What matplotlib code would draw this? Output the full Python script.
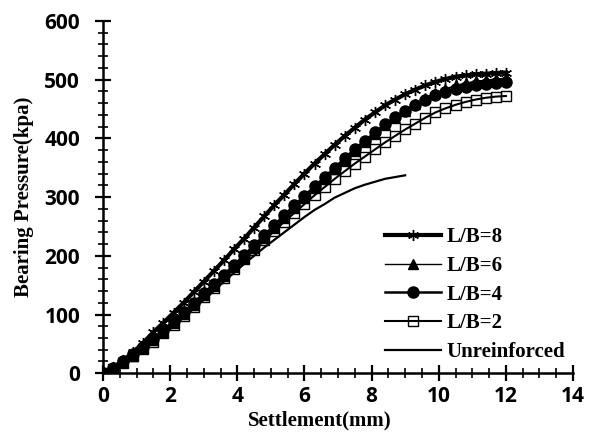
import matplotlib
matplotlib.use("Agg")
import matplotlib.pyplot as plt
from matplotlib.ticker import MultipleLocator

# settlement (mm) for the reinforced tests
settle = [0, 0.3, 0.6, 0.9, 1.2, 1.5, 1.8, 2.1, 2.4, 2.7, 3.0, 3.3, 3.6, 3.9,
          4.2, 4.5, 4.8, 5.1, 5.4, 5.7, 6.0, 6.3, 6.6, 6.9, 7.2, 7.5, 7.8,
          8.1, 8.4, 8.7, 9.0, 9.3, 9.6, 9.9, 10.2, 10.5, 10.8, 11.1, 11.4,
          11.7, 12.0]

lb8 = [0, 10, 22, 36, 52, 70, 86, 103, 120, 138, 156, 174, 192, 211, 229,
       248, 267, 286, 304, 322, 340, 357, 373, 389, 404, 418, 432, 444, 456,
       466, 475, 483, 490, 496, 501, 505, 507, 509, 510, 511, 512]
lb6 = [0, 8, 19, 30, 43, 57, 71, 86, 101, 117, 133, 149, 165, 181, 197,
       214, 231, 248, 265, 282, 298, 315, 331, 347, 363, 379, 394, 408, 422,
       435, 447, 458, 468, 477, 484, 490, 494, 497, 499, 501, 502]
lb4 = [0, 9, 20, 32, 45, 59, 74, 89, 104, 120, 136, 152, 168, 184, 201,
       218, 235, 252, 269, 286, 302, 318, 334, 350, 366, 382, 396, 410, 424,
       436, 447, 457, 465, 473, 479, 484, 488, 491, 493, 495, 496]
lb2 = [0, 8, 18, 29, 41, 54, 68, 82, 97, 113, 129, 145, 162, 178, 194,
       210, 226, 242, 258, 273, 288, 303, 317, 331, 344, 357, 369, 381, 393,
       404, 415, 425, 435, 444, 451, 457, 462, 466, 469, 471, 472]

# unreinforced test stops at 9 mm
settle_un = [0, 0.3, 0.6, 0.9, 1.2, 1.5, 1.8, 2.1, 2.4, 2.7, 3.0, 3.3, 3.6,
             3.9, 4.2, 4.5, 4.8, 5.1, 5.4, 5.7, 6.0, 6.3, 6.6, 6.9, 7.2, 7.5,
             7.8, 8.1, 8.4, 8.7, 9.0]
unreinf = [0, 7, 17, 28, 40, 53, 66, 80, 95, 110, 125, 140, 156, 171, 186,
           200, 214, 227, 240, 253, 266, 278, 288, 299, 307, 315, 321, 326,
           331, 334, 337]

fig = plt.figure(figsize=(5.92, 4.34), dpi=100)
ax = fig.add_axes([0.174, 0.14, 0.794, 0.812])

ax.plot(settle_un, unreinf, color="black", lw=1.6, label="Unreinforced", zorder=2)
ax.plot(settle, lb2, color="black", lw=1.5, marker="s", ms=7,
        mfc="none", mew=1.0, label="L/B=2", zorder=3)
ax.plot(settle, lb4, color="black", lw=1.8, marker="o", ms=8,
        label="L/B=4", zorder=4)
ax.plot(settle, lb6, color="black", lw=1.0, marker="^", ms=7,
        label="L/B=6", zorder=5)
ax.plot(settle, lb8, color="black", lw=3.0, marker=(6, 2, 0), ms=8,
        mew=1.0, label="L/B=8", zorder=6)

ax.set_xlim(0, 14)
ax.set_ylim(0, 600)
ax.xaxis.set_major_locator(MultipleLocator(2))
ax.xaxis.set_minor_locator(MultipleLocator(0.5))
ax.yaxis.set_major_locator(MultipleLocator(100))
ax.yaxis.set_minor_locator(MultipleLocator(20))

for s in ["top", "right"]:
    ax.spines[s].set_visible(False)
for s in ["left", "bottom"]:
    ax.spines[s].set_linewidth(1.8)

ax.tick_params(which="major", direction="inout", length=11, width=1.6)
ax.tick_params(which="minor", direction="inout", length=7, width=1.2)
ax.tick_params(axis="x", pad=4)
ax.tick_params(axis="y", pad=11)
for lab in ax.get_xticklabels() + ax.get_yticklabels():
    lab.set_fontfamily("Open Sans")
    lab.set_fontweight("bold")
    lab.set_fontsize(15)

ax.set_xlabel("Settlement(mm)", fontfamily="Liberation Serif",
              fontweight="bold", fontsize=15)
ax.xaxis.set_label_coords(0.462, -0.105)
ax.set_ylabel("Bearing Pressure(kpa)", fontfamily="Liberation Serif",
              fontweight="bold", fontsize=15)
ax.yaxis.set_label_coords(-0.147, 0.5)

handles, labels = ax.get_legend_handles_labels()
ax.legend(handles[::-1], labels[::-1], loc="lower right",
          bbox_to_anchor=(1.023, -0.022), frameon=False, handlelength=2.7,
          handletextpad=0.25, labelspacing=0.42,
          prop={"family": "Liberation Serif", "weight": "bold", "size": 15})

fig.savefig("out.png", dpi=100)
